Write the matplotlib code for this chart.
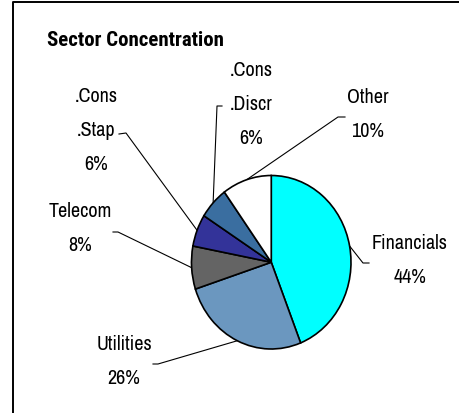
import numpy as np
import matplotlib
matplotlib.use("Agg")
import matplotlib.pyplot as plt

# ---- data ----
categories = ["Financials", "Utilities", "Telecom", ".Cons\n.Stap", ".Cons\n.Discr", "Other"]
values = [44, 26, 8, 6, 6, 10]
pct_labels = ["44%", "26%", "8%", "6%", "6%", "10%"]
colors = ["#00FFFF", "#6B97BF", "#646464", "#333399", "#3A6EA0", "#FFFFFF"]
title = "Sector Concentration"

# ---- layout (pixel coords from top-left) ----
W, H = 459, 414
label_pos = [(410, 261), (124, 362), (80, 229), (96, 131), (251, 105), (368, 115)]
# leader elbow and end points (pixels)
leader_pts = [
    [(363, 264), (369, 264)],
    [(158, 365), (153, 365)],
    [(118, 233), (113, 233)],
    [(126, 134), (119, 135)],
    [(217, 107), (222, 107)],
    [(338, 118), (345, 118)],
]

LABEL_FONT = ["Archivo Narrow", "Roboto Condensed", "DejaVu Sans"]
TITLE_FONT = ["Roboto Condensed", "DejaVu Sans"]

fig = plt.figure(figsize=(W / 100, H / 100), dpi=100)
fig.patch.set_facecolor("white")

ov = fig.add_axes([0, 0, 1, 1])
ov.set_xlim(0, W)
ov.set_ylim(H, 0)
ov.axis("off")
ov.patch.set_alpha(0)

# frame (left and top edges visible)
ov.plot([12.5, 12.5, W + 5], [H + 5, 2.5, 2.5], color="black", lw=1.4,
        solid_capstyle="butt", clip_on=False)

# title
ov.text(47, 40, title, fontsize=15, fontweight="bold", family=TITLE_FONT,
        ha="left", va="center", color="black")

# pie
px0, px1 = 191.5, 351.0
py0, py1 = 176.5, 350.0
ax = fig.add_axes([px0 / W, (H - py1) / H, (px1 - px0) / W, (py1 - py0) / H])
wedges, _ = ax.pie(values, colors=colors, startangle=90, counterclock=False,
                   radius=1.0,
                   wedgeprops=dict(edgecolor="black", linewidth=1.2, clip_on=False))
ax.set_aspect("auto")
ax.set_xlim(-1, 1)
ax.set_ylim(-1, 1)
ax.axis("off")

# labels and leader lines
total = float(sum(values))
cum = 0.0
for i, (cat, v) in enumerate(zip(categories, values)):
    mid = 90 - 360.0 * (cum + v / 2.0) / total
    cum += v
    th = np.deg2rad(mid)
    disp = ax.transData.transform((np.cos(th), np.sin(th)))
    anc = ov.transData.inverted().transform(disp)
    (ex, ey), (tx, ty) = leader_pts[i]
    ov.plot([anc[0], ex, tx], [anc[1], ey, ty], color="black", lw=0.8,
            zorder=1)
    lx, ly = label_pos[i]
    ov.text(lx, ly, cat + "\n" + pct_labels[i], fontsize=14.5, family=LABEL_FONT,
            ha="center", va="center", multialignment="center",
            linespacing=2.0, color="black")

fig.savefig("out.png", dpi=100, facecolor="white")
